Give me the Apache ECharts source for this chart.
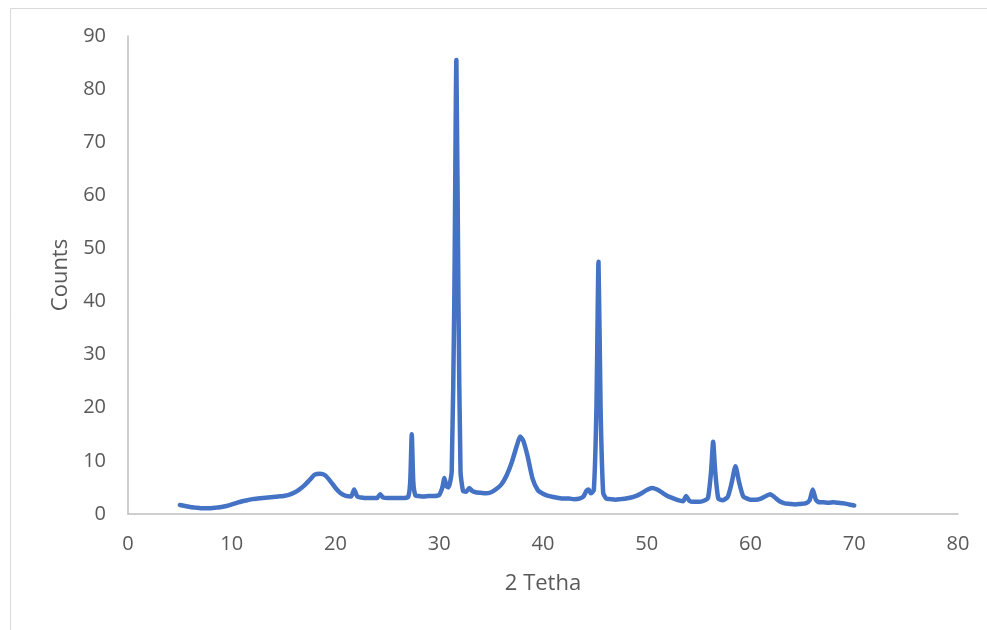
<!DOCTYPE html>
<html>
<head>
<meta charset="utf-8">
<script src="https://cdn.jsdelivr.net/npm/echarts@6/dist/echarts.min.js"></script>
<style>
  html, body { margin: 0; padding: 0; background: #fff; }
  #chart { width: 987px; height: 630px; }
</style>
</head>
<body>
<div id="chart"></div>
<script>
// Diffraction scan: 2θ positions (degrees) and intensity counts
const twoTheta = [
  5.0, 5.5, 6.0, 6.5, 7.0, 7.5, 8.0, 8.5, 9.0, 9.5,
  10.0, 10.5, 11.0, 11.5, 12.0, 12.5, 13.0, 13.5, 14.0, 14.5,
  15.0, 15.5, 16.0, 16.5, 17.0, 17.5, 18.0, 18.5, 19.0, 19.5,
  20.0, 20.5, 21.0, 21.5, 21.8, 22.1, 22.5, 23.0, 23.5, 24.0,
  24.3, 24.6, 25.0, 25.5, 26.0, 26.5, 27.0, 27.2, 27.35, 27.5,
  27.7, 28.0, 28.5, 29.0, 29.5, 30.0, 30.3, 30.5, 30.7, 30.9,
  31.2, 31.45, 31.65, 31.85, 32.05, 32.3, 32.6, 32.9, 33.2, 33.5,
  34.0, 34.5, 35.0, 35.5, 36.0, 36.5, 37.0, 37.5, 37.8, 38.1,
  38.5, 39.0, 39.5, 40.0, 40.5, 41.0, 41.5, 42.0, 42.5, 43.0,
  43.5, 43.9, 44.2, 44.4, 44.6, 44.9, 45.15, 45.35, 45.55, 45.8,
  46.1, 46.5, 47.0, 47.5, 48.0, 48.5, 49.0, 49.5, 50.0, 50.5,
  51.0, 51.5, 52.0, 52.5, 53.0, 53.5, 53.8, 54.1, 54.5, 55.0,
  55.5, 55.9, 56.2, 56.4, 56.6, 56.9, 57.3, 57.8, 58.2, 58.55,
  58.9, 59.3, 59.7, 60.0, 60.5, 61.0, 61.5, 61.9, 62.3, 62.8,
  63.3, 63.8, 64.3, 64.8, 65.3, 65.7, 66.0, 66.3, 66.6, 67.0,
  67.5, 68.0, 68.5, 69.0, 69.5, 70.0
];
const counts = [
  1.7, 1.5, 1.3, 1.2, 1.1, 1.1, 1.1, 1.2, 1.3, 1.5,
  1.8, 2.1, 2.4, 2.6, 2.8, 2.9, 3.0, 3.1, 3.2, 3.3,
  3.4, 3.6, 4.0, 4.6, 5.4, 6.4, 7.4, 7.6, 7.3, 6.2,
  4.9, 3.9, 3.4, 3.3, 4.6, 3.3, 3.1, 3.0, 3.0, 3.0,
  3.7, 3.1, 3.0, 3.0, 3.0, 3.0, 3.2, 6.0, 15.0, 6.0,
  3.5, 3.4, 3.3, 3.4, 3.4, 3.6, 5.0, 6.8, 5.2, 5.0,
  8.0, 40.0, 85.5, 40.0, 8.0, 4.3, 4.2, 4.9, 4.3, 4.1,
  4.0, 3.9, 4.1, 4.7, 5.6, 7.3, 9.8, 13.0, 14.6, 13.8,
  11.0, 6.6, 4.5, 3.8, 3.4, 3.2, 3.0, 2.9, 2.9, 2.8,
  2.9, 3.3, 4.4, 4.6, 3.9, 4.5, 20.0, 47.5, 20.0, 4.0,
  2.9, 2.8, 2.7, 2.8, 2.9, 3.1, 3.4, 3.9, 4.5, 4.9,
  4.6, 4.0, 3.4, 3.0, 2.6, 2.4, 3.4, 2.5, 2.3, 2.3,
  2.5, 3.0, 8.0, 13.6, 8.0, 2.9, 2.6, 3.2, 6.0, 9.0,
  6.0, 3.3, 2.9, 2.7, 2.7, 2.9, 3.4, 3.7, 3.2, 2.4,
  2.0, 1.9, 1.8, 1.9, 2.0, 2.6, 4.6, 2.7, 2.2, 2.2,
  2.1, 2.2, 2.1, 2.0, 1.8, 1.6
];
const xTicks = [0, 10, 20, 30, 40, 50, 60, 70, 80];
const yTicks = [0, 10, 20, 30, 40, 50, 60, 70, 80, 90];

const points = twoTheta.map((t, i) => [t, counts[i]]);

const chart = echarts.init(document.getElementById('chart'), null, { renderer: 'canvas' });
const textColor = '#595959';
const font = 'Open Sans, Liberation Sans, sans-serif';

chart.setOption({
  animation: false,
  backgroundColor: '#ffffff',
  graphic: [{
    type: 'rect',
    left: 8, top: 6,
    shape: { width: 1200, height: 900 },
    style: { fill: 'none', stroke: '#d9d9d9', lineWidth: 1 },
    silent: true
  }],
  grid: { left: 128, right: 29, top: 36, bottom: 116 },
  xAxis: {
    type: 'value',
    min: xTicks[0], max: xTicks[xTicks.length - 1], interval: 10,
    name: '2 Tetha', nameLocation: 'middle', nameGap: 59,
    nameTextStyle: { color: textColor, fontSize: 22, fontFamily: font },
    axisLine: { show: true, lineStyle: { color: '#bfbfbf', width: 1.5 } },
    axisTick: { show: false },
    splitLine: { show: false },
    axisLabel: { color: textColor, fontSize: 20, fontFamily: font, margin: 20 }
  },
  yAxis: {
    type: 'value',
    min: yTicks[0], max: yTicks[yTicks.length - 1], interval: 10,
    name: 'Counts', nameLocation: 'middle', nameGap: 56, nameRotate: 90,
    nameTextStyle: { color: textColor, fontSize: 22, fontFamily: font },
    axisLine: { show: true, lineStyle: { color: '#bfbfbf', width: 1.5 } },
    axisTick: { show: false },
    splitLine: { show: false },
    axisLabel: { color: textColor, fontSize: 20, fontFamily: font, margin: 22 }
  },
  series: [{
    type: 'line',
    data: points,
    showSymbol: false,
    smooth: 0.2,
    lineStyle: { color: '#4472C4', width: 4.5, cap: 'round', join: 'round' }
  }]
});
</script>
</body>
</html>
